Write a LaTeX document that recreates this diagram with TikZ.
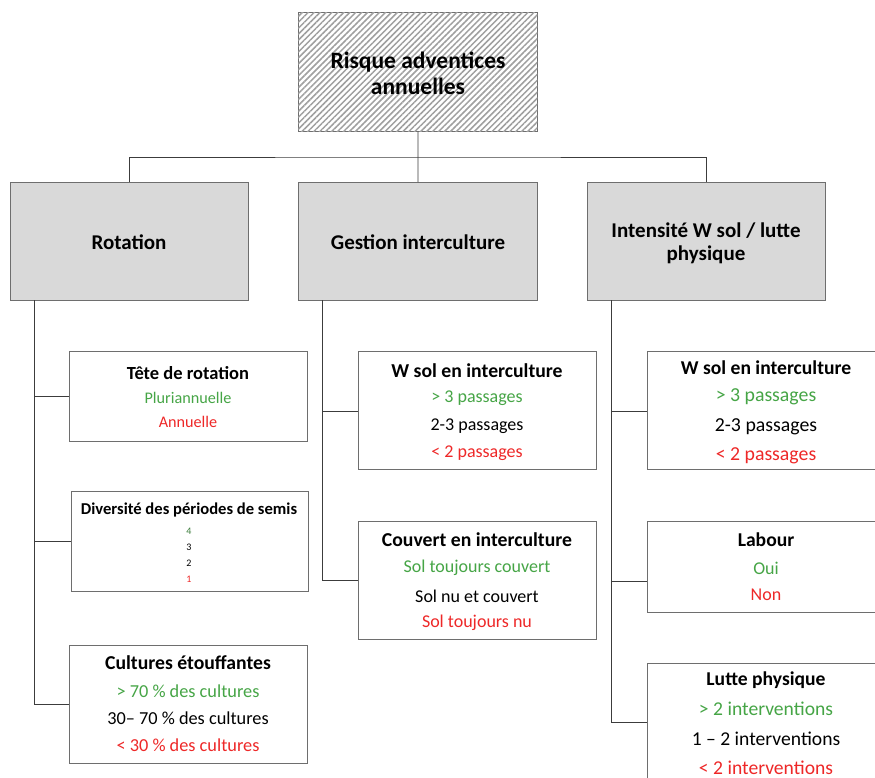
\documentclass[tikz,border=0pt]{standalone}
\usepackage{fontspec}
\setmainfont{Carlito}
\usetikzlibrary{patterns.meta}
\definecolor{okgreen}{RGB}{70,165,70}
\definecolor{darkgreen}{RGB}{60,125,60}
\definecolor{badred}{RGB}{238,40,40}
\definecolor{boxgray}{RGB}{217,217,217}
\definecolor{edgegray}{RGB}{110,110,110}
\definecolor{linegray}{RGB}{60,60,60}
\tikzset{
  box/.style={draw=edgegray, line width=0.9pt, fill=white, inner sep=0pt},
  catbox/.style={draw=edgegray, line width=0.9pt, fill=boxgray, inner sep=0pt},
  conn/.style={draw=linegray, line width=0.9pt},
  ttl/.style={font=\bfseries\fontsize{#1}{#1}\selectfont, inner sep=0pt, anchor=center},
  itm/.style={font=\fontsize{#1}{#1}\selectfont, inner sep=0pt, anchor=center},
}
\begin{document}
\begin{tikzpicture}[x=1pt,y=-1pt]
\useasboundingbox (0,0) rectangle (875,778);
\begin{scope}
\clip (0,0) rectangle (875,778);
% top box
\node[box, minimum width=239pt, minimum height=119pt, anchor=north west,
  postaction={pattern={Lines[angle=45,distance=4.2pt,line width=1.5pt]}, pattern color=gray!75}] (top) at (298,12) {};
\node[align=center, inner sep=0pt, font=\bfseries\fontsize{23.5}{26}\selectfont] (toptxt) at (418,73) {Risque adventices\\annuelles};

% level 2
\node[catbox, minimum width=238pt, minimum height=118pt, anchor=north west] (rot) at (10,182) {};
\node[catbox, minimum width=239pt, minimum height=118pt, anchor=north west] (ges) at (298,182) {};
\node[catbox, minimum width=238pt, minimum height=118pt, anchor=north west] (int) at (587,182) {};
\node[ttl=21] (rott) at (129,242) {Rotation};
\node[ttl=21] (gest) at (418,242) {Gestion interculture};
\node[align=center, font=\bfseries\fontsize{21}{23}\selectfont, inner sep=0pt] (intt) at (706,243) {Intensité W sol / lutte\\physique};

% top connectors
\coordinate (hub) at (418,157);
\draw[conn] (top.south) -- (hub);
\draw[conn] (rot.north) |- (hub) -| (int.north);
\draw[conn] (hub) -- (ges.north);

% level 3 boxes
\node[box, minimum width=238pt, minimum height=90pt, anchor=north west] (tete) at (69,351) {};
\node[box, minimum width=237pt, minimum height=100pt, anchor=north west] (div) at (71,491) {};
\node[box, minimum width=238pt, minimum height=118pt, anchor=north west] (cult) at (69,645) {};
\node[box, minimum width=238pt, minimum height=118pt, anchor=north west] (wsa) at (358,351) {};
\node[box, minimum width=238pt, minimum height=118pt, anchor=north west] (couv) at (358,521) {};
\node[box, minimum width=238pt, minimum height=118pt, anchor=north west] (wsb) at (647,351) {};
\node[box, minimum width=238pt, minimum height=91pt, anchor=north west] (lab) at (647,521) {};
\node[box, minimum width=238pt, minimum height=130pt, anchor=north west] (lut) at (647,663) {};

% branch connectors
\coordinate (rb) at (34,300);
\coordinate (gb) at (322,300);
\coordinate (ib) at (611,300);
\draw[conn] (rb) |- (cult.west);
\draw[conn] (rb |- tete.west) -- (tete.west);
\draw[conn] (rb |- div.west) -- (div.west);
\draw[conn] (gb) |- (couv.west |- 0,580);
\draw[conn] (gb |- 0,411) -- (wsa.west |- 0,411);
\draw[conn] (ib) |- (lut.west |- 0,722);
\draw[conn] (ib |- 0,411) -- (wsb.west |- 0,411);
\draw[conn] (ib |- 0,581) -- (lab.west |- 0,581);

% Tete de rotation
\node[ttl=18.5] (t1) at (188,373) {Tête de rotation};
\node[itm=16.2, text=okgreen] (t2) at (188,398) {Pluriannuelle};
\node[itm=16.2, text=badred] (t3) at (188,422) {Annuelle};

% Diversite
\node[ttl=16.6] (d1) at (189,510) {Diversité des périodes de semis};
\node[itm=10, text=darkgreen] (d2) at (189,531) {4};
\node[itm=10] (d3) at (189,547) {3};
\node[itm=10] (d4) at (189,563) {2};
\node[itm=10, text=badred] (d5) at (189,579) {1};

% Cultures etouffantes
\node[ttl=19.7] (c1) at (188,663) {Cultures étouffantes};
\node[itm=18.3, text=okgreen] (c2) at (188,691) {> 70 \% des cultures};
\node[itm=18.3] (c3) at (188,718) {30– 70 \% des cultures};
\node[itm=18.3, text=badred] (c4) at (188,745) {< 30 \% des cultures};

% W sol (gestion)
\node[ttl=19.7] (w1) at (477,371) {W sol en interculture};
\node[itm=18, text=okgreen] (w2) at (477,398) {> 3 passages};
\node[itm=18] (w3) at (477,426) {2-3 passages};
\node[itm=18, text=badred] (w4) at (477,453) {< 2 passages};

% Couvert
\node[ttl=19.7] (k1) at (477,540) {Couvert en interculture};
\node[itm=18, text=okgreen] (k2) at (477,568) {Sol toujours couvert};
\node[itm=18] (k3) at (477,596) {Sol nu et couvert};
\node[itm=18, text=badred] (k4) at (477,623) {Sol toujours nu};

% W sol (intensite)
\node[ttl=19.6] (v1) at (766,368) {W sol en interculture};
\node[itm=19.8, text=okgreen] (v2) at (766,397) {> 3 passages};
\node[itm=19.8] (v3) at (766,427) {2-3 passages};
\node[itm=19.8, text=badred] (v4) at (766,456) {< 2 passages};

% Labour
\node[ttl=19.6] (l1) at (766,540) {Labour};
\node[itm=18, text=okgreen] (l2) at (766,568) {Oui};
\node[itm=18, text=badred] (l3) at (766,595) {Non};

% Lutte physique
\node[ttl=19.6] (p1) at (766,680) {Lutte physique};
\node[itm=19.6, text=okgreen] (p2) at (766,709) {> 2 interventions};
\node[itm=19.6] (p3) at (766,739) {1 – 2 interventions};
\node[itm=19.6, text=badred] (p4) at (766,768) {< 2 interventions};
\end{scope}
\end{tikzpicture}
\end{document}
